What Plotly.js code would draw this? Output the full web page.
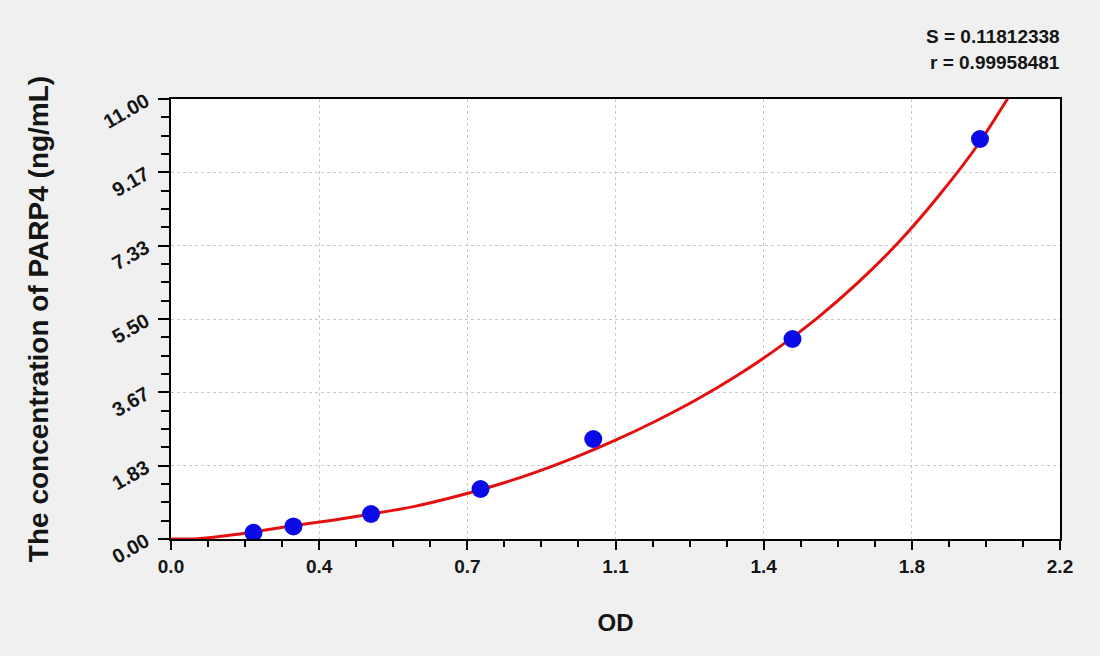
<!DOCTYPE html>
<html>
<head>
<meta charset="utf-8">
<script src="https://cdn.plot.ly/plotly-3.0.1.min.js"></script>
<style>
  html, body { margin: 0; padding: 0; background: #f0f0f0; }
  #plot { width: 1100px; height: 656px; }
</style>
</head>
<body>
<div id="plot"></div>
<script>
// standard points
const stdOD = [0.204, 0.303, 0.495, 0.766, 1.045, 1.538, 2.002];
const stdConc = [0.156, 0.313, 0.625, 1.25, 2.5, 5.0, 10.0];

// fitted curve
const fitOD = [0.0, 0.05, 0.1, 0.2, 0.3, 0.4, 0.5, 0.6, 0.7, 0.8, 0.9, 1.0, 1.1, 1.2,
  1.3, 1.4, 1.5, 1.6, 1.7, 1.8, 1.9, 2.0, 2.076];
const fitConc = [0.0, 0.0, 0.04, 0.17, 0.33, 0.47, 0.63, 0.81, 1.05, 1.33, 1.66, 2.04, 2.47, 2.95,
  3.48, 4.08, 4.76, 5.53, 6.41, 7.41, 8.58, 9.9, 11.1];

const xTickText = ['0.0', '0.4', '0.7', '1.1', '1.4', '1.8', '2.2'];
const yTickText = ['0.00', '1.83', '3.67', '5.50', '7.33', '9.17', '11.00'];
const xMax = 2.2;
const yMax = 11;

const statS = 'S = 0.11812338';
const statR = 'r = 0.99958481';

const FONT = '"Liberation Sans", Arial, sans-serif';
const INK = '#151515';

function evenTicks(max, n) {
  return [...Array(n).keys()].map(i => i * max / (n - 1));
}

const fitTrace = {
  x: fitOD,
  y: fitConc,
  type: 'scatter',
  mode: 'lines',
  line: {color: '#e41010', width: 3, shape: 'spline', smoothing: 0.6},
  hoverinfo: 'skip'
};

const stdTrace = {
  x: stdOD,
  y: stdConc,
  type: 'scatter',
  mode: 'markers',
  marker: {color: '#0a0ae6', size: 18}
};

const axisCommon = {
  showline: true,
  linecolor: '#000',
  linewidth: 2,
  mirror: true,
  ticks: 'outside',
  tickcolor: '#000',
  tickwidth: 2,
  tickmode: 'array',
  showgrid: true,
  gridcolor: '#c8c8c8',
  griddash: 'dot',
  gridwidth: 1,
  zeroline: false,
  tickfont: {family: FONT, size: 19, color: INK, weight: 700}
};

const layout = {
  width: 1100,
  height: 656,
  paper_bgcolor: '#f0f0f0',
  plot_bgcolor: '#ffffff',
  showlegend: false,
  margin: {l: 171, r: 40, t: 99, b: 117},
  xaxis: Object.assign({}, axisCommon, {
    range: [0, xMax],
    tickvals: evenTicks(xMax, 7),
    ticktext: xTickText,
    ticklen: 9,
    minor: {tickmode: 'linear', tick0: 0, dtick: xMax / 24, ticklen: 6, tickwidth: 2, tickcolor: '#000', showgrid: false},
    title: {text: 'OD', standoff: 38, font: {family: FONT, size: 24, color: INK, weight: 700}}
  }),
  yaxis: Object.assign({}, axisCommon, {
    range: [0, yMax],
    tickvals: evenTicks(yMax, 7),
    ticktext: yTickText,
    tickangle: -30,
    ticklen: 11,
    ticklabelstandoff: 8,
    tickfont: {family: FONT, size: 20, color: INK, weight: 700},
    minor: {tickmode: 'linear', tick0: 0, dtick: yMax / 24, ticklen: 8, tickwidth: 2, tickcolor: '#000', showgrid: false},
    title: {text: 'The concentration of PARP4 (ng/mL)', standoff: 43, font: {family: FONT, size: 28, color: INK, weight: 700}}
  }),
  annotations: [
    {text: statS, xref: 'paper', yref: 'paper', x: 1, y: 1.143, xanchor: 'right', yanchor: 'middle', xshift: 2,
      showarrow: false, font: {family: FONT, size: 19, color: INK, weight: 700}},
    {text: statR, xref: 'paper', yref: 'paper', x: 1, y: 1.084, xanchor: 'right', yanchor: 'middle', xshift: 2,
      showarrow: false, font: {family: FONT, size: 19, color: INK, weight: 700}}
  ]
};

Plotly.newPlot('plot', [fitTrace, stdTrace], layout, {staticPlot: true});
</script>
</body>
</html>
